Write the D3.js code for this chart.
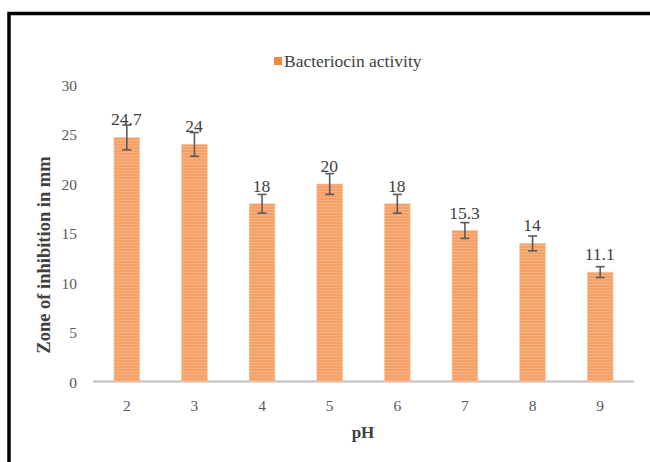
<!DOCTYPE html>
<html>
<head>
<meta charset="utf-8">
<script src="https://cdn.jsdelivr.net/npm/d3@7"></script>
<style>
  html, body { margin: 0; padding: 0; background: #ffffff; }
  svg { display: block; }
</style>
</head>
<body>
<svg id="chart" width="650" height="462"></svg>
<script>
// ---- data ----
const categories = ["2", "3", "4", "5", "6", "7", "8", "9"];
const values = [24.7, 24, 18, 20, 18, 15.3, 14, 11.1];
const valueLabels = ["24.7", "24", "18", "20", "18", "15.3", "14", "11.1"];
const errors = [1.25, 1.2, 0.95, 1.05, 0.95, 0.8, 0.75, 0.55];
const yTicks = [0, 5, 10, 15, 20, 25, 30];
const seriesName = "Bacteriocin activity";
const xTitle = "pH";
const yTitle = "Zone of inhibition in mm";

const FONT = "Liberation Serif";
const svg = d3.select("#chart");

// frame
svg.append("rect").attr("x", 0).attr("y", 0).attr("width", 650).attr("height", 462).attr("fill", "#fff");
svg.append("rect")
  .attr("x", 9).attr("y", 13.5).attr("width", 660).attr("height", 470)
  .attr("fill", "none").attr("stroke", "#000").attr("stroke-width", 3.5);

// bar stripe pattern
const defs = svg.append("defs");
const pat = defs.append("pattern").attr("id", "stripes")
  .attr("patternUnits", "userSpaceOnUse").attr("width", 4).attr("height", 3);
pat.append("rect").attr("width", 4).attr("height", 3).attr("fill", "#f4a066");
pat.append("rect").attr("y", 2).attr("width", 4).attr("height", 1).attr("fill", "#f7b282");

const x = d3.scaleBand().domain(categories).range([93, 634]).paddingInner(0.62).paddingOuter(0.31);
const y = d3.scaleLinear().domain([0, 30]).range([382, 85]);

// y tick labels
const yAxis = d3.axisLeft(y).tickValues(yTicks).tickSize(0).tickPadding(0);
const gy = svg.append("g").attr("transform", "translate(77,0)").call(yAxis)
  .attr("font-family", FONT);
gy.select(".domain").remove();
gy.selectAll("text").attr("font-size", "15.5px").attr("fill", "#595959")
  .attr("font-family", FONT).attr("dy", "0.34em");

// x axis
const xAxis = d3.axisBottom(x).tickSize(0).tickPadding(0);
const gx = svg.append("g").attr("transform", "translate(0,381.5)").call(xAxis)
  .attr("font-family", FONT);
gx.select(".domain").attr("stroke", "#bfbfbf").attr("stroke-width", 2.2)
  .attr("d", "M93,0H634");
gx.selectAll("text").attr("font-size", "15.5px").attr("fill", "#595959")
  .attr("font-family", FONT).attr("y", 29.5).attr("dy", 0);

// bars
svg.append("g").selectAll("rect").data(values).join("rect")
  .attr("x", (d, i) => x(categories[i]))
  .attr("y", d => y(d))
  .attr("width", x.bandwidth())
  .attr("height", d => y(0) - y(d) - 0.5)
  .attr("fill", "url(#stripes)")
  .attr("stroke", "#f8c4a0").attr("stroke-width", 0.6);

// error bars
const eg = svg.append("g").attr("stroke", "#5a5a5a").attr("stroke-width", 1.6).attr("fill", "none");
values.forEach((v, i) => {
  const cx = x(categories[i]) + x.bandwidth() / 2;
  const y1 = y(v + errors[i]), y2 = y(v - errors[i]);
  eg.append("line").attr("x1", cx).attr("x2", cx).attr("y1", y1).attr("y2", y2);
  eg.append("line").attr("x1", cx - 4.5).attr("x2", cx + 4.5).attr("y1", y1).attr("y2", y1);
  eg.append("line").attr("x1", cx - 4.5).attr("x2", cx + 4.5).attr("y1", y2).attr("y2", y2);
});

// value labels
svg.append("g").selectAll("text").data(values).join("text")
  .attr("x", (d, i) => x(categories[i]) + x.bandwidth() / 2 - 0.5)
  .attr("y", d => y(d) - 12)
  .attr("text-anchor", "middle")
  .attr("font-family", FONT)
  .attr("font-size", "17.5px")
  .attr("fill", "#404040")
  .text((d, i) => valueLabels[i]);

// legend
svg.append("rect").attr("x", 274).attr("y", 57).attr("width", 8).attr("height", 8).attr("fill", "#f0883e");
svg.append("text").attr("x", 284).attr("y", 66.5).attr("font-family", FONT)
  .attr("font-size", "17.5px").attr("fill", "#404040")
  .text(seriesName);

// axis titles
svg.append("text").attr("x", 363).attr("y", 438).attr("text-anchor", "middle").attr("font-family", FONT)
  .attr("font-size", "17px").attr("font-weight", "bold").attr("fill", "#404040").text(xTitle);
svg.append("text").attr("transform", "translate(50,255) rotate(-90)").attr("text-anchor", "middle")
  .attr("font-family", FONT)
  .attr("font-size", "18.5px").attr("font-weight", "bold").attr("fill", "#404040").text(yTitle);
</script>
</body>
</html>
